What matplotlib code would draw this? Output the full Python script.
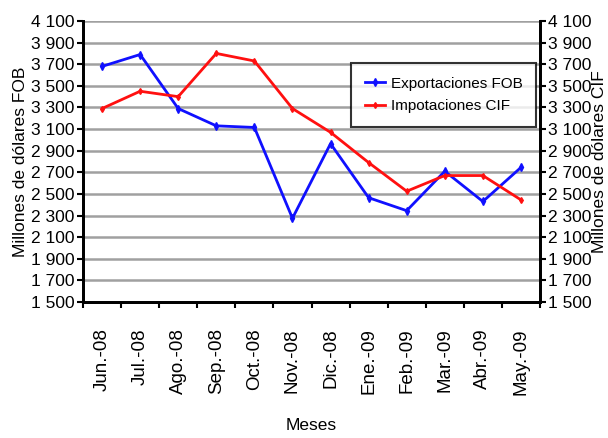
import numpy as np
import matplotlib.pyplot as plt

plt.rcParams['font.family'] = ['Liberation Sans', 'DejaVu Sans']

# Data
meses = ['Jun.-08', 'Jul.-08', 'Ago.-08', 'Sep.-08', 'Oct.-08', 'Nov.-08',
         'Dic.-08', 'Ene.-09', 'Feb.-09', 'Mar.-09', 'Abr.-09', 'May.-09']
export_fob = [3680, 3790, 3290, 3130, 3115, 2275, 2965, 2465, 2345, 2710, 2430, 2745]
import_cif = [3290, 3450, 3400, 3800, 3730, 3290, 3070, 2790, 2525, 2670, 2670, 2445]
y_ticks = list(range(1500, 4101, 200))
y_tick_labels = [f"{v:,}".replace(',', ' ') for v in y_ticks]

fig = plt.figure(figsize=(6.08, 4.38), dpi=100)
ax = fig.add_axes([83 / 608, 1 - 302 / 438, (540 - 83) / 608, (302 - 21) / 438])

x = np.arange(len(meses))
ax.plot(x, export_fob, color='#1010ff', lw=2, marker='d', ms=4, label='Exportaciones FOB')
ax.plot(x, import_cif, color='#ff1010', lw=2, marker='d', ms=3, label='Impotaciones CIF')

ax.set_xlim(-0.5, len(meses) - 0.5)
ax.set_ylim(1500, 4100)
ax.set_yticks(y_ticks)
ax.set_yticklabels(y_tick_labels, fontsize=12.5)
ax.set_xticks(x)
ax.set_xticklabels(meses, rotation=90, fontsize=13.5)
ax.set_xticks(np.arange(-0.5, len(meses), 1), minor=True)
ax.tick_params(axis='x', which='major', length=0, pad=19)
ax.tick_params(axis='x', which='minor', length=4, width=1.5, direction='out')
ax.tick_params(axis='y', length=4, width=1.5, pad=2)
ax.grid(axis='y', color='#a0a0a0', lw=1.8)
ax.set_axisbelow(True)
for s in ['left', 'bottom', 'right']:
    ax.spines[s].set_linewidth(2)
ax.spines['top'].set_visible(False)
ax.set_ylabel('Millones de dólares FOB', fontsize=12.5, labelpad=2)
ax.set_xlabel('Meses', fontsize=12.5, labelpad=17)

ax2 = ax.twinx()
ax2.set_ylim(1500, 4100)
ax2.set_yticks(y_ticks)
ax2.set_yticklabels(y_tick_labels, fontsize=12.5)
ax2.tick_params(axis='y', length=4, width=1.5, pad=2)
for s in ['left', 'bottom', 'right']:
    ax2.spines[s].set_linewidth(2)
ax2.spines['top'].set_visible(False)
ax2.set_ylabel('Millones de dólares CIF', fontsize=12.5, labelpad=0)

leg = ax.legend(loc='upper left', bbox_to_anchor=((351 - 83) / 457, 1 - (63 - 21) / 281),
                borderaxespad=0, fontsize=11, frameon=True, fancybox=False,
                edgecolor='black', handlelength=1.3, handletextpad=0.4,
                borderpad=0.9, labelspacing=0.55)
leg.get_frame().set_linewidth(1.5)

fig.savefig('out.png', dpi=100)
